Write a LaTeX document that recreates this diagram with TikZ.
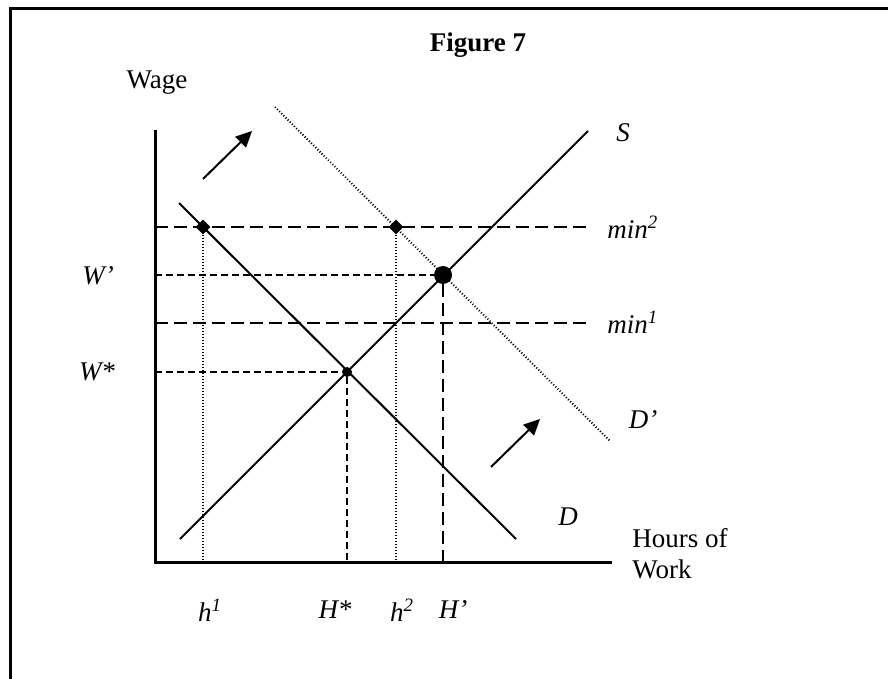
\documentclass[tikz,border=0pt]{standalone}
\usepackage{fontspec}
\setmainfont{Liberation Serif}
\usetikzlibrary{arrows.meta, positioning, shapes.geometric}

\begin{document}
\begin{tikzpicture}[
  x=0.5pt, y=-0.5pt,
  font=\fontsize{13.5}{15.5}\selectfont,
  lab/.style={font=\fontsize{13.5}{15.5}\selectfont\itshape, inner sep=0pt},
  axis/.style={line width=1.5pt},
  curve/.style={line width=1pt},
  newdem/.style={line width=1pt, dash pattern=on 0.5pt off 1pt},
  longdash/.style={line width=1.2pt, dash pattern=on 6.5pt off 3pt},
  shortdash/.style={line width=1pt, dash pattern=on 3.5pt off 2pt},
  drop/.style={line width=0.8pt, dash pattern=on 0.5pt off 1pt},
  dia/.style={diamond, fill=black, inner sep=0pt, minimum size=7.5pt},
  eqdot/.style={circle, fill=black, inner sep=0pt, minimum size=5pt},
  bigdot/.style={circle, fill=black, inner sep=0pt, minimum size=9pt},
  mv/.style={-{Triangle[length=8pt, width=7.5pt]}, line width=1pt}
]
\useasboundingbox (0,0) rectangle (888,679);

% ---------- frame ----------
\coordinate (fb) at (10,679);
\coordinate (fc) at (10,9);
\coordinate (fr) at (888,9);
\draw[line width=1.5pt] (fb) -- (fc) -- (fr);

% ---------- axes ----------
\coordinate (O) at (155,562);
\coordinate (ytop) at (155,130);
\coordinate (xend) at (612,562);
\draw[axis] (ytop) -- (O) -- (xend);

\node (title) at (478,45) {\bfseries Figure 7};
\node (wage) at (157,83) {Wage};
\node[align=left, anchor=north west, inner sep=0pt] (hours) at (632,528) {Hours of\\Work};

% ---------- points ----------
\node[eqdot] (e0) at (347,372) {};
\node[bigdot] (e1) at (443,275) {};
\node[dia] (k1) at (203,227) {};
\node[dia] (k2) at (396,227) {};
\coordinate (m2) at (586,227);
\coordinate (m1) at (586,323);

% ---------- wage lines ----------
\draw[longdash] (O |- k1) -- (m2);
\draw[longdash] (O |- m1) -- (m1);
\draw[shortdash] (O |- e1) -- (e1.west);
\draw[shortdash] (O |- e0) -- (e0.west);

% ---------- hours lines ----------
\draw[drop] (k1.south) -- (k1 |- O);
\draw[drop] (k2.south) -- (k2 |- O);
\draw[shortdash] (e0.south) -- (e0 |- O);
\draw[longdash] (e1.south) -- (e1 |- O);

% ---------- supply and demand ----------
\coordinate (s0) at (180,539);
\coordinate (s1) at (588,131);
\coordinate (d0) at (179,203);
\coordinate (d1) at (516,539);
\coordinate (dp0) at (275,107);
\coordinate (dp1) at (610,441);
\draw[curve] (s0) -- (s1);
\draw[curve] (d0) -- (d1);
\draw[newdem] (dp0) -- (dp1);

% ---------- shift arrows ----------
\coordinate (a0) at (203,179);
\coordinate (a1) at (252,131);
\coordinate (b0) at (491,467);
\coordinate (b1) at (540,419);
\draw[mv] (a0) -- (a1);
\draw[mv] (b0) -- (b1);

% ---------- labels ----------
\node[lab] (lS) at (623,133) {S};
\node[lab] (lD) at (568,517) {D};
\node[lab] (lDp) at (643,420) {D'};
\node[lab, anchor=west] (lm2) at (607,227) {min\textsuperscript{2}};
\node[lab, anchor=west] (lm1) at (607,322) {min\textsuperscript{1}};
\node[lab] (lWp) at (98,276) {W'};
\node[lab] (lWs) at (97,372) {W*};
\node[lab] (lh1) at (210,610) {h\textsuperscript{1}};
\node[lab] (lHs) at (335,610) {H*};
\node[lab] (lh2) at (402,610) {h\textsuperscript{2}};
\node[lab] (lHp) at (453,610) {H'};

\end{tikzpicture}
\end{document}
